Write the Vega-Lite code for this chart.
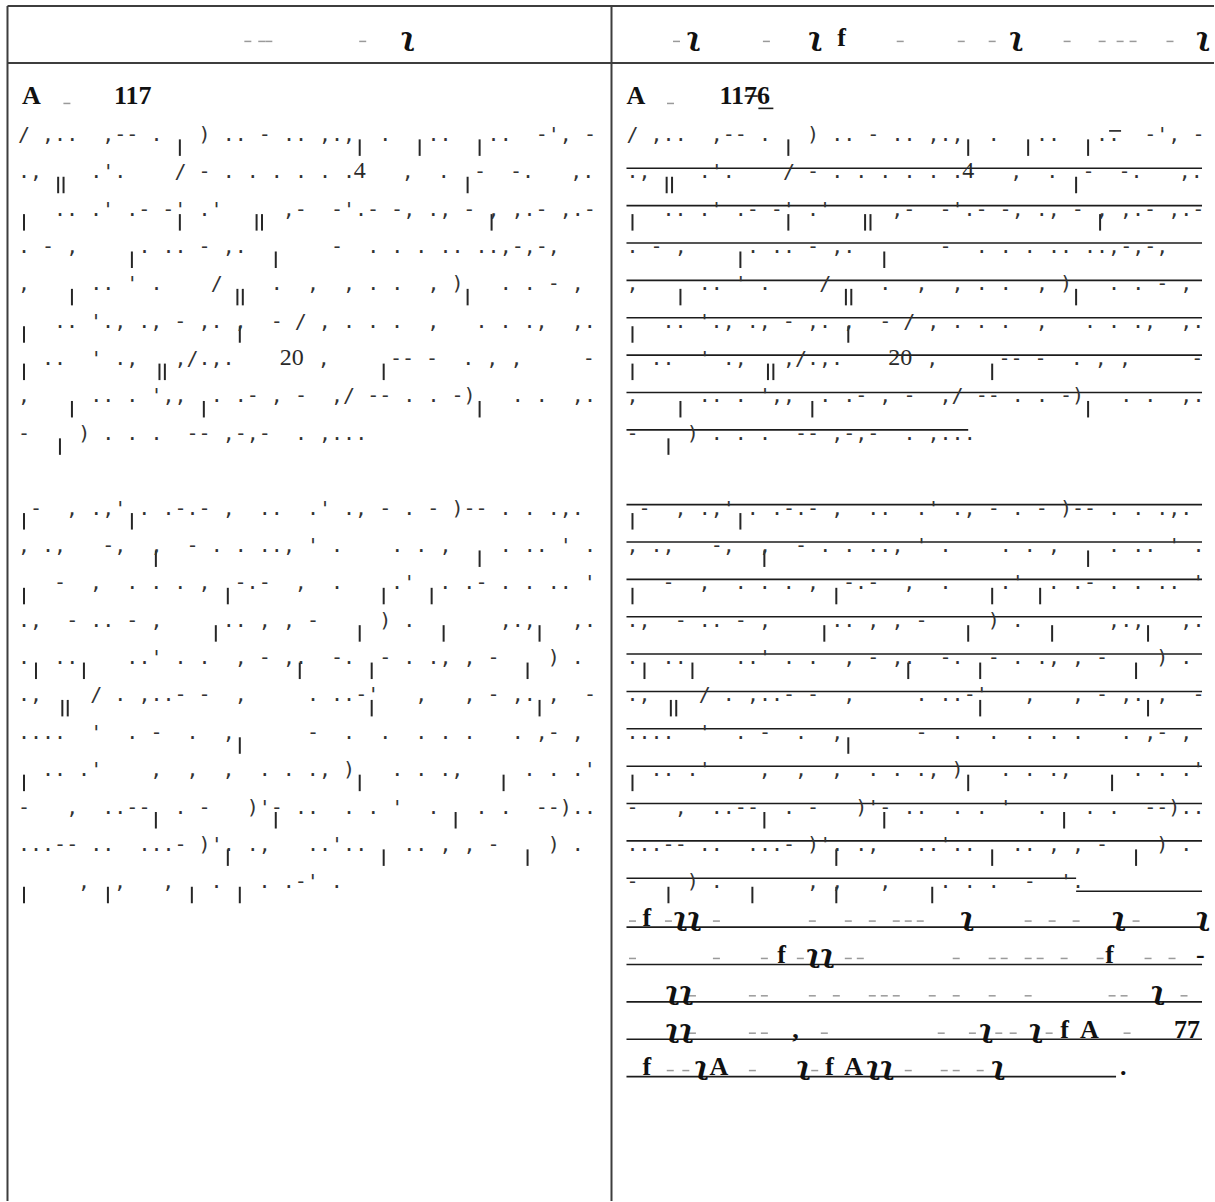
{
"$schema": "https://vega.github.io/schema/vega-lite/v6.json",
"width": 1215, "height": 1202,
"autosize": {"type": "fit", "contains": "padding"},
"padding": 0,
"background": "#ffffff",
"config": {"view": {"stroke": null}},
"datasets": {
"frame": [
{"a": -0.875, "b": 99.75, "l": -2.61, "l2": -2.61},
{"a": -0.875, "b": 99.75, "l": -1.086, "l2": -1.086},
{"a": -0.875, "b": -0.875, "l": -2.61, "l2": 29.369},
{"a": 49.5, "b": 49.5, "l": -2.61, "l2": 29.369}
],
"ul": [
{"a": 91, "b": 92, "l": 0.733},
{"a": 50.75, "b": 98.75, "l": 1.733},
{"a": 50.75, "b": 98.75, "l": 2.733},
{"a": 50.75, "b": 98.75, "l": 3.733},
{"a": 50.75, "b": 98.75, "l": 4.733},
{"a": 50.75, "b": 98.75, "l": 5.733},
{"a": 50.75, "b": 98.75, "l": 6.733},
{"a": 50.75, "b": 98.75, "l": 7.733},
{"a": 50.75, "b": 79.25, "l": 8.733},
{"a": 50.75, "b": 98.75, "l": 10.733},
{"a": 50.75, "b": 98.75, "l": 11.733},
{"a": 50.75, "b": 98.75, "l": 12.733},
{"a": 50.75, "b": 98.75, "l": 13.733},
{"a": 50.75, "b": 98.75, "l": 14.733},
{"a": 50.75, "b": 98.75, "l": 15.733},
{"a": 50.75, "b": 98.75, "l": 16.733},
{"a": 50.75, "b": 98.75, "l": 17.733},
{"a": 50.75, "b": 98.75, "l": 18.733},
{"a": 50.75, "b": 98.75, "l": 19.733},
{"a": 50.75, "b": 88.25, "l": 20.733},
{"a": 88.25, "b": 98.75, "l": 21.08},
{"a": 50.75, "b": 98.75, "l": 22.04},
{"a": 50.75, "b": 98.75, "l": 23.04},
{"a": 50.75, "b": 98.75, "l": 24.04},
{"a": 50.75, "b": 98.75, "l": 25.04},
{"a": 50.75, "b": 91.58, "l": 26.04},
{"a": 61.75, "b": 63, "l": 0.13},
{"a": 60.6, "b": 61.7, "l": -0.2}
],
"para": [
{"line": 1, "cx": 0, "s": "/\u00a0,..\u00a0\u00a0,--\u00a0.\u00a0\u00a0\u00a0)\u00a0..\u00a0-\u00a0..\u00a0,.,\u00a0\u00a0.\u00a0\u00a0\u00a0..\u00a0\u00a0\u00a0..\u00a0\u00a0-',\u00a0-"},
{"line": 1, "cx": 50.75, "s": "/\u00a0,..\u00a0\u00a0,--\u00a0.\u00a0\u00a0\u00a0)\u00a0..\u00a0-\u00a0..\u00a0,.,\u00a0\u00a0.\u00a0\u00a0\u00a0..\u00a0\u00a0\u00a0..\u00a0\u00a0-',\u00a0-"},
{"line": 2, "cx": 0, "s": ".,\u00a0\u00a0\u00a0\u00a0.'.\u00a0\u00a0\u00a0\u00a0/\u00a0-\u00a0.\u00a0.\u00a0.\u00a0.\u00a0.\u00a0."},
{"line": 2, "cx": 32, "s": ",\u00a0\u00a0.\u00a0\u00a0-\u00a0\u00a0-.\u00a0\u00a0\u00a0,."},
{"line": 2, "cx": 50.75, "s": ".,\u00a0\u00a0\u00a0\u00a0.'.\u00a0\u00a0\u00a0\u00a0/\u00a0-\u00a0.\u00a0.\u00a0.\u00a0.\u00a0.\u00a0."},
{"line": 2, "cx": 82.75, "s": ",\u00a0\u00a0.\u00a0\u00a0-\u00a0\u00a0-.\u00a0\u00a0\u00a0,."},
{"line": 3, "cx": 3, "s": "..\u00a0.'\u00a0.-\u00a0-'\u00a0.'\u00a0\u00a0\u00a0\u00a0\u00a0,-\u00a0\u00a0-'.-\u00a0-,\u00a0.,\u00a0-\u00a0,\u00a0,.-\u00a0,.-"},
{"line": 3, "cx": 53.75, "s": "..\u00a0.'\u00a0.-\u00a0-'\u00a0.'\u00a0\u00a0\u00a0\u00a0\u00a0,-\u00a0\u00a0-'.-\u00a0-,\u00a0.,\u00a0-\u00a0,\u00a0,.-\u00a0,.-"},
{"line": 4, "cx": 0, "s": ".\u00a0-\u00a0,\u00a0\u00a0\u00a0\u00a0\u00a0.\u00a0..\u00a0-\u00a0,.\u00a0\u00a0\u00a0\u00a0\u00a0\u00a0\u00a0-\u00a0\u00a0.\u00a0.\u00a0.\u00a0..\u00a0..,-,-,"},
{"line": 4, "cx": 50.75, "s": ".\u00a0-\u00a0,\u00a0\u00a0\u00a0\u00a0\u00a0.\u00a0..\u00a0-\u00a0,.\u00a0\u00a0\u00a0\u00a0\u00a0\u00a0\u00a0-\u00a0\u00a0.\u00a0.\u00a0.\u00a0..\u00a0..,-,-,"},
{"line": 5, "cx": 0, "s": ",\u00a0\u00a0\u00a0\u00a0\u00a0..\u00a0'\u00a0.\u00a0\u00a0\u00a0\u00a0/\u00a0\u00a0\u00a0\u00a0.\u00a0\u00a0,\u00a0\u00a0,\u00a0.\u00a0.\u00a0\u00a0,\u00a0)\u00a0\u00a0\u00a0.\u00a0.\u00a0-\u00a0,"},
{"line": 5, "cx": 50.75, "s": ",\u00a0\u00a0\u00a0\u00a0\u00a0..\u00a0'\u00a0.\u00a0\u00a0\u00a0\u00a0/\u00a0\u00a0\u00a0\u00a0.\u00a0\u00a0,\u00a0\u00a0,\u00a0.\u00a0.\u00a0\u00a0,\u00a0)\u00a0\u00a0\u00a0.\u00a0.\u00a0-\u00a0,"},
{"line": 6, "cx": 3, "s": "..\u00a0'.,\u00a0.,\u00a0-\u00a0,.\u00a0,\u00a0\u00a0-\u00a0/\u00a0,\u00a0.\u00a0.\u00a0.\u00a0\u00a0,\u00a0\u00a0\u00a0.\u00a0.\u00a0.,\u00a0\u00a0,."},
{"line": 6, "cx": 53.75, "s": "..\u00a0'.,\u00a0.,\u00a0-\u00a0,.\u00a0,\u00a0\u00a0-\u00a0/\u00a0,\u00a0.\u00a0.\u00a0.\u00a0\u00a0,\u00a0\u00a0\u00a0.\u00a0.\u00a0.,\u00a0\u00a0,."},
{"line": 7, "cx": 2, "s": "..\u00a0\u00a0'\u00a0.,\u00a0\u00a0\u00a0,/.,."},
{"line": 7, "cx": 25, "s": ",\u00a0\u00a0\u00a0\u00a0\u00a0--\u00a0-\u00a0\u00a0.\u00a0,\u00a0,\u00a0\u00a0\u00a0\u00a0\u00a0-"},
{"line": 7, "cx": 52.75, "s": "..\u00a0\u00a0'\u00a0.,\u00a0\u00a0\u00a0,/.,."},
{"line": 7, "cx": 75.75, "s": ",\u00a0\u00a0\u00a0\u00a0\u00a0--\u00a0-\u00a0\u00a0.\u00a0,\u00a0,\u00a0\u00a0\u00a0\u00a0\u00a0-"},
{"line": 8, "cx": 0, "s": ",\u00a0\u00a0\u00a0\u00a0\u00a0..\u00a0.\u00a0',,\u00a0\u00a0.\u00a0.-\u00a0,\u00a0-\u00a0\u00a0,/\u00a0--\u00a0.\u00a0.\u00a0-)\u00a0\u00a0\u00a0.\u00a0.\u00a0\u00a0,."},
{"line": 8, "cx": 50.75, "s": ",\u00a0\u00a0\u00a0\u00a0\u00a0..\u00a0.\u00a0',,\u00a0\u00a0.\u00a0.-\u00a0,\u00a0-\u00a0\u00a0,/\u00a0--\u00a0.\u00a0.\u00a0-)\u00a0\u00a0\u00a0.\u00a0.\u00a0\u00a0,."},
{"line": 9, "cx": 0, "s": "-\u00a0\u00a0\u00a0\u00a0)\u00a0.\u00a0.\u00a0.\u00a0\u00a0--\u00a0,-,-\u00a0\u00a0.\u00a0,..."},
{"line": 9, "cx": 50.75, "s": "-\u00a0\u00a0\u00a0\u00a0)\u00a0.\u00a0.\u00a0.\u00a0\u00a0--\u00a0,-,-\u00a0\u00a0.\u00a0,..."},
{"line": 11, "cx": 1, "s": "-\u00a0\u00a0,\u00a0.,'\u00a0.\u00a0.-.-\u00a0,\u00a0\u00a0..\u00a0\u00a0.'\u00a0.,\u00a0-\u00a0.\u00a0-\u00a0)--\u00a0.\u00a0.\u00a0.,."},
{"line": 11, "cx": 51.75, "s": "-\u00a0\u00a0,\u00a0.,'\u00a0.\u00a0.-.-\u00a0,\u00a0\u00a0..\u00a0\u00a0.'\u00a0.,\u00a0-\u00a0.\u00a0-\u00a0)--\u00a0.\u00a0.\u00a0.,."},
{"line": 12, "cx": 0, "s": ",\u00a0.,\u00a0\u00a0\u00a0-,\u00a0\u00a0,\u00a0\u00a0-\u00a0.\u00a0.\u00a0..,\u00a0'\u00a0.\u00a0\u00a0\u00a0\u00a0.\u00a0.\u00a0,\u00a0\u00a0\u00a0\u00a0.\u00a0..\u00a0'\u00a0."},
{"line": 12, "cx": 50.75, "s": ",\u00a0.,\u00a0\u00a0\u00a0-,\u00a0\u00a0,\u00a0\u00a0-\u00a0.\u00a0.\u00a0..,\u00a0'\u00a0.\u00a0\u00a0\u00a0\u00a0.\u00a0.\u00a0,\u00a0\u00a0\u00a0\u00a0.\u00a0..\u00a0'\u00a0."},
{"line": 13, "cx": 3, "s": "-\u00a0\u00a0,\u00a0\u00a0.\u00a0.\u00a0.\u00a0,\u00a0\u00a0-.-\u00a0\u00a0,\u00a0\u00a0.\u00a0\u00a0\u00a0\u00a0.'\u00a0\u00a0.\u00a0.-\u00a0.\u00a0.\u00a0..\u00a0'"},
{"line": 13, "cx": 53.75, "s": "-\u00a0\u00a0,\u00a0\u00a0.\u00a0.\u00a0.\u00a0,\u00a0\u00a0-.-\u00a0\u00a0,\u00a0\u00a0.\u00a0\u00a0\u00a0\u00a0.'\u00a0\u00a0.\u00a0.-\u00a0.\u00a0.\u00a0..\u00a0'"},
{"line": 14, "cx": 0, "s": ".,\u00a0\u00a0-\u00a0..\u00a0-\u00a0,\u00a0\u00a0\u00a0\u00a0\u00a0..\u00a0,\u00a0,\u00a0-\u00a0\u00a0\u00a0\u00a0\u00a0)\u00a0.\u00a0\u00a0\u00a0\u00a0\u00a0\u00a0\u00a0,.,\u00a0\u00a0\u00a0,."},
{"line": 14, "cx": 50.75, "s": ".,\u00a0\u00a0-\u00a0..\u00a0-\u00a0,\u00a0\u00a0\u00a0\u00a0\u00a0..\u00a0,\u00a0,\u00a0-\u00a0\u00a0\u00a0\u00a0\u00a0)\u00a0.\u00a0\u00a0\u00a0\u00a0\u00a0\u00a0\u00a0,.,\u00a0\u00a0\u00a0,."},
{"line": 15, "cx": 0, "s": ".\u00a0\u00a0..\u00a0\u00a0\u00a0\u00a0..'\u00a0.\u00a0.\u00a0\u00a0,\u00a0-\u00a0,.\u00a0\u00a0-.\u00a0\u00a0-\u00a0.\u00a0.,\u00a0,\u00a0-\u00a0\u00a0\u00a0\u00a0)\u00a0."},
{"line": 15, "cx": 50.75, "s": ".\u00a0\u00a0..\u00a0\u00a0\u00a0\u00a0..'\u00a0.\u00a0.\u00a0\u00a0,\u00a0-\u00a0,.\u00a0\u00a0-.\u00a0\u00a0-\u00a0.\u00a0.,\u00a0,\u00a0-\u00a0\u00a0\u00a0\u00a0)\u00a0."},
{"line": 16, "cx": 0, "s": ".,\u00a0\u00a0\u00a0\u00a0/\u00a0.\u00a0,..-\u00a0-\u00a0\u00a0,\u00a0\u00a0\u00a0\u00a0\u00a0.\u00a0..-'\u00a0\u00a0\u00a0,\u00a0\u00a0\u00a0,\u00a0-\u00a0,.\u00a0,\u00a0\u00a0-"},
{"line": 16, "cx": 50.75, "s": ".,\u00a0\u00a0\u00a0\u00a0/\u00a0.\u00a0,..-\u00a0-\u00a0\u00a0,\u00a0\u00a0\u00a0\u00a0\u00a0.\u00a0..-'\u00a0\u00a0\u00a0,\u00a0\u00a0\u00a0,\u00a0-\u00a0,.\u00a0,\u00a0\u00a0-"},
{"line": 17, "cx": 0, "s": "....\u00a0\u00a0'\u00a0\u00a0.\u00a0-\u00a0\u00a0.\u00a0\u00a0,\u00a0\u00a0\u00a0\u00a0\u00a0\u00a0-\u00a0\u00a0.\u00a0\u00a0.\u00a0\u00a0.\u00a0.\u00a0.\u00a0\u00a0\u00a0.\u00a0,-\u00a0,"},
{"line": 17, "cx": 50.75, "s": "....\u00a0\u00a0'\u00a0\u00a0.\u00a0-\u00a0\u00a0.\u00a0\u00a0,\u00a0\u00a0\u00a0\u00a0\u00a0\u00a0-\u00a0\u00a0.\u00a0\u00a0.\u00a0\u00a0.\u00a0.\u00a0.\u00a0\u00a0\u00a0.\u00a0,-\u00a0,"},
{"line": 18, "cx": 2, "s": "..\u00a0.'\u00a0\u00a0\u00a0\u00a0,\u00a0\u00a0,\u00a0\u00a0,\u00a0\u00a0.\u00a0.\u00a0.,\u00a0)\u00a0\u00a0\u00a0.\u00a0.\u00a0.,\u00a0\u00a0\u00a0\u00a0\u00a0.\u00a0.\u00a0.'"},
{"line": 18, "cx": 52.75, "s": "..\u00a0.'\u00a0\u00a0\u00a0\u00a0,\u00a0\u00a0,\u00a0\u00a0,\u00a0\u00a0.\u00a0.\u00a0.,\u00a0)\u00a0\u00a0\u00a0.\u00a0.\u00a0.,\u00a0\u00a0\u00a0\u00a0\u00a0.\u00a0.\u00a0.'"},
{"line": 19, "cx": 0, "s": "-\u00a0\u00a0\u00a0,\u00a0\u00a0..--\u00a0\u00a0.\u00a0-\u00a0\u00a0\u00a0)'-\u00a0..\u00a0\u00a0.\u00a0.\u00a0'\u00a0\u00a0.\u00a0\u00a0\u00a0.\u00a0.\u00a0\u00a0--).."},
{"line": 19, "cx": 50.75, "s": "-\u00a0\u00a0\u00a0,\u00a0\u00a0..--\u00a0\u00a0.\u00a0-\u00a0\u00a0\u00a0)'-\u00a0..\u00a0\u00a0.\u00a0.\u00a0'\u00a0\u00a0.\u00a0\u00a0\u00a0.\u00a0.\u00a0\u00a0--).."},
{"line": 20, "cx": 0, "s": "...--\u00a0..\u00a0\u00a0...-\u00a0)'.\u00a0.,\u00a0\u00a0\u00a0..'..\u00a0\u00a0\u00a0..\u00a0,\u00a0,\u00a0-\u00a0\u00a0\u00a0\u00a0)\u00a0."},
{"line": 20, "cx": 50.75, "s": "...--\u00a0..\u00a0\u00a0...-\u00a0)'.\u00a0.,\u00a0\u00a0\u00a0..'..\u00a0\u00a0\u00a0..\u00a0,\u00a0,\u00a0-\u00a0\u00a0\u00a0\u00a0)\u00a0."},
{"line": 21, "cx": 5, "s": ",\u00a0\u00a0,\u00a0\u00a0\u00a0,\u00a0\u00a0\u00a0.\u00a0\u00a0\u00a0.\u00a0.-'\u00a0."},
{"line": 21, "cx": 50.75, "s": "-\u00a0\u00a0\u00a0\u00a0)\u00a0.\u00a0\u00a0\u00a0\u00a0\u00a0\u00a0\u00a0,\u00a0,\u00a0\u00a0\u00a0,\u00a0\u00a0\u00a0\u00a0.\u00a0.\u00a0.\u00a0\u00a0-\u00a0\u00a0'."}
],
"num": [
{"line": 2, "cx": 28.0, "t": "4"},
{"line": 2, "cx": 78.75, "t": "4"},
{"line": 7, "cx": 21.83, "t": "20"},
{"line": 7, "cx": 72.58, "t": "20"}
],
"stem": [
{"line": 1, "cx": 13.5}, {"line": 1, "cx": 28.5}, {"line": 1, "cx": 33.5}, {"line": 1, "cx": 38.5},
{"line": 1, "cx": 64.25}, {"line": 1, "cx": 79.25}, {"line": 1, "cx": 84.25}, {"line": 1, "cx": 89.25},
{"line": 2, "cx": 3.35}, {"line": 2, "cx": 3.8}, {"line": 2, "cx": 37.5},
{"line": 2, "cx": 54.1}, {"line": 2, "cx": 54.55}, {"line": 2, "cx": 88.25},
{"line": 3, "cx": 0.5}, {"line": 3, "cx": 13.5}, {"line": 3, "cx": 19.9}, {"line": 3, "cx": 20.35}, {"line": 3, "cx": 39.5},
{"line": 3, "cx": 51.25}, {"line": 3, "cx": 64.25}, {"line": 3, "cx": 70.65}, {"line": 3, "cx": 71.1}, {"line": 3, "cx": 90.25},
{"line": 4, "cx": 9.5}, {"line": 4, "cx": 21.5}, {"line": 4, "cx": 60.25}, {"line": 4, "cx": 72.25},
{"line": 5, "cx": 4.5}, {"line": 5, "cx": 18.3}, {"line": 5, "cx": 18.75}, {"line": 5, "cx": 37.5},
{"line": 5, "cx": 55.25}, {"line": 5, "cx": 69.05}, {"line": 5, "cx": 69.5}, {"line": 5, "cx": 88.25},
{"line": 6, "cx": 0.5}, {"line": 6, "cx": 18.5}, {"line": 6, "cx": 51.25}, {"line": 6, "cx": 69.25},
{"line": 7, "cx": 0.5}, {"line": 7, "cx": 11.8}, {"line": 7, "cx": 12.25}, {"line": 7, "cx": 30.5},
{"line": 7, "cx": 51.25}, {"line": 7, "cx": 62.55}, {"line": 7, "cx": 63.0}, {"line": 7, "cx": 81.25},
{"line": 8, "cx": 4.5}, {"line": 8, "cx": 15.5}, {"line": 8, "cx": 38.5},
{"line": 8, "cx": 55.25}, {"line": 8, "cx": 66.25}, {"line": 8, "cx": 89.25},
{"line": 9, "cx": 3.5}, {"line": 9, "cx": 54.25},
{"line": 11, "cx": 0.5}, {"line": 11, "cx": 9.5}, {"line": 11, "cx": 51.25}, {"line": 11, "cx": 60.25},
{"line": 12, "cx": 11.5}, {"line": 12, "cx": 38.5}, {"line": 12, "cx": 62.25}, {"line": 12, "cx": 89.25},
{"line": 13, "cx": 0.5}, {"line": 13, "cx": 17.5}, {"line": 13, "cx": 30.5}, {"line": 13, "cx": 34.5},
{"line": 13, "cx": 51.25}, {"line": 13, "cx": 68.25}, {"line": 13, "cx": 81.25}, {"line": 13, "cx": 85.25},
{"line": 14, "cx": 16.5}, {"line": 14, "cx": 28.5}, {"line": 14, "cx": 35.5}, {"line": 14, "cx": 43.5},
{"line": 14, "cx": 67.25}, {"line": 14, "cx": 79.25}, {"line": 14, "cx": 86.25}, {"line": 14, "cx": 94.25},
{"line": 15, "cx": 1.5}, {"line": 15, "cx": 5.5}, {"line": 15, "cx": 23.5}, {"line": 15, "cx": 29.5}, {"line": 15, "cx": 42.5},
{"line": 15, "cx": 52.25}, {"line": 15, "cx": 56.25}, {"line": 15, "cx": 74.25}, {"line": 15, "cx": 80.25}, {"line": 15, "cx": 93.25},
{"line": 16, "cx": 3.7}, {"line": 16, "cx": 4.15}, {"line": 16, "cx": 29.5}, {"line": 16, "cx": 43.5},
{"line": 16, "cx": 54.45}, {"line": 16, "cx": 54.9}, {"line": 16, "cx": 80.25}, {"line": 16, "cx": 94.25},
{"line": 17, "cx": 18.5}, {"line": 17, "cx": 69.25},
{"line": 18, "cx": 0.5}, {"line": 18, "cx": 28.5}, {"line": 18, "cx": 40.5},
{"line": 18, "cx": 51.25}, {"line": 18, "cx": 79.25}, {"line": 18, "cx": 91.25},
{"line": 19, "cx": 11.5}, {"line": 19, "cx": 21.5}, {"line": 19, "cx": 36.5},
{"line": 19, "cx": 62.25}, {"line": 19, "cx": 72.25}, {"line": 19, "cx": 87.25},
{"line": 20, "cx": 17.5}, {"line": 20, "cx": 30.5}, {"line": 20, "cx": 42.5},
{"line": 20, "cx": 68.25}, {"line": 20, "cx": 81.25}, {"line": 20, "cx": 93.25},
{"line": 21, "cx": 0.5}, {"line": 21, "cx": 7.5}, {"line": 21, "cx": 14.5}, {"line": 21, "cx": 18.5},
{"line": 21, "cx": 54.25}, {"line": 21, "cx": 61.25}, {"line": 21, "cx": 68.25}, {"line": 21, "cx": 76.25}
],
"dash": [
{"line": -1.54, "cx": 19.17}, {"line": -1.54, "cx": 20.33}, {"line": -1.54, "cx": 20.92}, {"line": -1.54, "cx": 28.75},
{"line": -1.54, "cx": 54.92}, {"line": -1.54, "cx": 62.42}, {"line": -1.54, "cx": 73.58}, {"line": -1.54, "cx": 78.67},
{"line": -1.54, "cx": 81.25}, {"line": -1.54, "cx": 87.5}, {"line": -1.54, "cx": 90.42}, {"line": -1.54, "cx": 91.92},
{"line": -1.54, "cx": 93}, {"line": -1.54, "cx": 96.08},
{"line": 0.12, "cx": 4.08}, {"line": 0.12, "cx": 54.42},
{"line": 22, "cx": 51.25}, {"line": 22, "cx": 54.25}, {"line": 22, "cx": 58.25}, {"line": 22, "cx": 66.25},
{"line": 22, "cx": 69.25}, {"line": 22, "cx": 71.25}, {"line": 22, "cx": 73.25}, {"line": 22, "cx": 74.25},
{"line": 22, "cx": 75.25}, {"line": 22, "cx": 84.25}, {"line": 22, "cx": 86.25}, {"line": 22, "cx": 88.25}, {"line": 22, "cx": 93.25},
{"line": 23, "cx": 51.25}, {"line": 23, "cx": 58.25}, {"line": 23, "cx": 62.25}, {"line": 23, "cx": 65.25},
{"line": 23, "cx": 69.25}, {"line": 23, "cx": 70.25}, {"line": 23, "cx": 78.25}, {"line": 23, "cx": 81.25},
{"line": 23, "cx": 82.25}, {"line": 23, "cx": 84.25}, {"line": 23, "cx": 85.25}, {"line": 23, "cx": 87.25},
{"line": 23, "cx": 90.25}, {"line": 23, "cx": 94.25}, {"line": 23, "cx": 96.25},
{"line": 24, "cx": 56.25}, {"line": 24, "cx": 61.25}, {"line": 24, "cx": 62.25}, {"line": 24, "cx": 66.25},
{"line": 24, "cx": 68.25}, {"line": 24, "cx": 71.25}, {"line": 24, "cx": 72.25}, {"line": 24, "cx": 73.25},
{"line": 24, "cx": 76.25}, {"line": 24, "cx": 78.25}, {"line": 24, "cx": 81.25}, {"line": 24, "cx": 84.25},
{"line": 24, "cx": 91.25}, {"line": 24, "cx": 92.25}, {"line": 24, "cx": 97.25},
{"line": 25, "cx": 56.25}, {"line": 25, "cx": 61.25}, {"line": 25, "cx": 62.25}, {"line": 25, "cx": 67.25},
{"line": 25, "cx": 77}, {"line": 25, "cx": 79.6}, {"line": 25, "cx": 81.8}, {"line": 25, "cx": 83},
{"line": 25, "cx": 86}, {"line": 25, "cx": 92.5},
{"line": 26, "cx": 54.4}, {"line": 26, "cx": 55.7}, {"line": 26, "cx": 61.25}, {"line": 26, "cx": 66.45},
{"line": 26, "cx": 74.25}, {"line": 26, "cx": 77.25}, {"line": 26, "cx": 78.25}, {"line": 26, "cx": 80.25}
],
"bold": [
{"line": 0, "cx": 0.33, "t": "A"},
{"line": 0, "cx": 8, "t": "117"},
{"line": 0, "cx": 50.75, "t": "A"},
{"line": 0, "cx": 58.5, "t": "1176"},
{"line": -1.54, "cx": 68.33, "t": "f"},
{"line": 22, "cx": 52.08, "t": "f"},
{"line": 23, "cx": 63.33, "t": "f"},
{"line": 23, "cx": 90.67, "t": "f"},
{"line": 23, "cx": 98.25, "t": "-"},
{"line": 25, "cx": 64.58, "t": ","},
{"line": 25, "cx": 86.92, "t": "f"},
{"line": 25, "cx": 88.58, "t": "A"},
{"line": 25, "cx": 96.42, "t": "77"},
{"line": 26, "cx": 52.08, "t": "f"},
{"line": 26, "cx": 57.67, "t": "A"},
{"line": 26, "cx": 67.33, "t": "f"},
{"line": 26, "cx": 68.92, "t": "A"},
{"line": 26, "cx": 91.92, "t": "."}
],
"hook": [
{"line": -1.54, "cx": 31.92, "t": "\u0285"},
{"line": -1.54, "cx": 55.75, "t": "\u0285"},
{"line": -1.54, "cx": 65.92, "t": "\u0285"},
{"line": -1.54, "cx": 82.67, "t": "\u0285"},
{"line": -1.54, "cx": 98.25, "t": "\u0285"},
{"line": 22, "cx": 54.67, "t": "\u0285\u0285"},
{"line": 22, "cx": 78.58, "t": "\u0285"},
{"line": 22, "cx": 91.25, "t": "\u0285"},
{"line": 22, "cx": 98.25, "t": "\u0285"},
{"line": 23, "cx": 65.75, "t": "\u0285\u0285"},
{"line": 24, "cx": 54, "t": "\u0285\u0285"},
{"line": 24, "cx": 94.5, "t": "\u0285"},
{"line": 25, "cx": 54, "t": "\u0285\u0285"},
{"line": 25, "cx": 80.17, "t": "\u0285"},
{"line": 25, "cx": 84.33, "t": "\u0285"},
{"line": 26, "cx": 56.42, "t": "\u0285"},
{"line": 26, "cx": 64.92, "t": "\u0285"},
{"line": 26, "cx": 70.75, "t": "\u0285\u0285"},
{"line": 26, "cx": 81.17, "t": "\u0285"}
]
},
"layer": [
{"data": {"name": "frame"},
 "mark": {"type": "rule", "color": "#3d3d3d", "strokeWidth": 2},
 "encoding": {
  "x": {"field": "a", "type": "quantitative", "scale": {"domain": [-1.5, 99.75], "nice": false, "zero": false}, "axis": null},
  "x2": {"field": "b"},
  "y": {"field": "l", "type": "quantitative", "scale": {"domain": [-2.77, 29.369], "reverse": true, "nice": false, "zero": false}, "axis": null},
  "y2": {"field": "l2"}}},
{"data": {"name": "ul"},
 "mark": {"type": "rule", "color": "#1c1c1c", "strokeWidth": 1.6},
 "encoding": {
  "x": {"field": "a", "type": "quantitative", "scale": {"domain": [-1.5, 99.75], "nice": false, "zero": false}, "axis": null},
  "x2": {"field": "b"},
  "y": {"field": "l", "type": "quantitative", "scale": {"domain": [-2.77, 29.369], "reverse": true, "nice": false, "zero": false}, "axis": null}}},
{"data": {"name": "stem"},
 "mark": {"type": "point", "shape": "M0,-0.2L0,2", "size": 225, "filled": false, "stroke": "#262626", "strokeWidth": 2, "opacity": 1},
 "encoding": {
  "x": {"field": "cx", "type": "quantitative", "scale": {"domain": [-1.5, 99.75], "nice": false, "zero": false}, "axis": null},
  "y": {"field": "line", "type": "quantitative", "scale": {"domain": [-2.77, 29.369], "reverse": true, "nice": false, "zero": false}, "axis": null}}},
{"data": {"name": "dash"},
 "mark": {"type": "point", "shape": "M-1,-1.3L1,-1.3", "size": 49, "filled": false, "stroke": "#9a9a9a", "strokeWidth": 1.5, "opacity": 1},
 "encoding": {
  "x": {"field": "cx", "type": "quantitative", "scale": {"domain": [-1.5, 99.75], "nice": false, "zero": false}, "axis": null},
  "y": {"field": "line", "type": "quantitative", "scale": {"domain": [-2.77, 29.369], "reverse": true, "nice": false, "zero": false}, "axis": null}}},
{"data": {"name": "para"},
 "mark": {"type": "text", "font": "DejaVu Sans Mono", "fontSize": 20, "align": "left", "baseline": "alphabetic", "color": "#333333"},
 "encoding": {
  "x": {"field": "cx", "type": "quantitative", "scale": {"domain": [-1.5, 99.75], "nice": false, "zero": false}, "axis": null},
  "y": {"field": "line", "type": "quantitative", "scale": {"domain": [-2.77, 29.369], "reverse": true, "nice": false, "zero": false}, "axis": null},
  "text": {"field": "s"}}},
{"data": {"name": "num"},
 "mark": {"type": "text", "font": "Liberation Serif", "fontSize": 24, "align": "left", "baseline": "alphabetic", "color": "#2a2a2a"},
 "encoding": {
  "x": {"field": "cx", "type": "quantitative", "scale": {"domain": [-1.5, 99.75], "nice": false, "zero": false}, "axis": null},
  "y": {"field": "line", "type": "quantitative", "scale": {"domain": [-2.77, 29.369], "reverse": true, "nice": false, "zero": false}, "axis": null},
  "text": {"field": "t"}}},
{"data": {"name": "bold"},
 "mark": {"type": "text", "font": "Liberation Serif", "fontSize": 26, "fontWeight": "bold", "align": "left", "baseline": "alphabetic", "color": "#111111"},
 "encoding": {
  "x": {"field": "cx", "type": "quantitative", "scale": {"domain": [-1.5, 99.75], "nice": false, "zero": false}, "axis": null},
  "y": {"field": "line", "type": "quantitative", "scale": {"domain": [-2.77, 29.369], "reverse": true, "nice": false, "zero": false}, "axis": null},
  "text": {"field": "t"}}},
{"data": {"name": "hook"},
 "mark": {"type": "text", "font": "DejaVu Serif", "fontSize": 26, "fontWeight": "bold", "align": "left", "baseline": "alphabetic", "color": "#111111"},
 "encoding": {
  "x": {"field": "cx", "type": "quantitative", "scale": {"domain": [-1.5, 99.75], "nice": false, "zero": false}, "axis": null},
  "y": {"field": "line", "type": "quantitative", "scale": {"domain": [-2.77, 29.369], "reverse": true, "nice": false, "zero": false}, "axis": null},
  "text": {"field": "t"}}}
]
}
